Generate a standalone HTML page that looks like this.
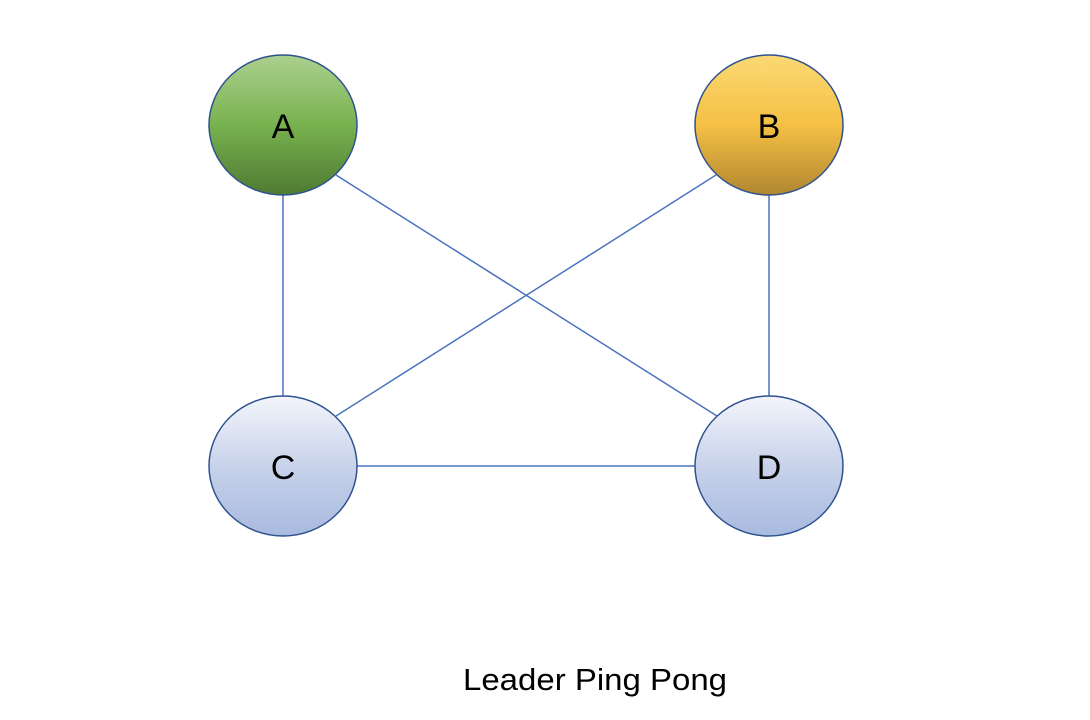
<!DOCTYPE html>
<html><head><meta charset="utf-8"><style>html,body{margin:0;padding:0;background:#fff;width:1090px;height:720px;overflow:hidden}</style></head>
<body>
<svg width="1090" height="720" xmlns="http://www.w3.org/2000/svg">
<defs>
<linearGradient id="ga" x1="0" y1="0" x2="0" y2="1"><stop offset="0" stop-color="#acd08f"/><stop offset="0.5" stop-color="#78b24f"/><stop offset="1" stop-color="#4f7a32"/></linearGradient>
<linearGradient id="gb" x1="0" y1="0" x2="0" y2="1"><stop offset="0" stop-color="#fbd975"/><stop offset="0.5" stop-color="#f5c044"/><stop offset="1" stop-color="#b08730"/></linearGradient>
<linearGradient id="gc" x1="0" y1="0" x2="0" y2="1"><stop offset="0" stop-color="#f3f5fb"/><stop offset="0.5" stop-color="#c8d2ea"/><stop offset="1" stop-color="#a8bae0"/></linearGradient>
</defs>
<g stroke="#4a72c0" stroke-width="1.5">
<line x1="283" y1="195" x2="283" y2="396"/>
<line x1="769" y1="195" x2="769" y2="396"/>
<line x1="336" y1="175" x2="717" y2="416"/>
<line x1="716" y1="175" x2="336" y2="416"/>
<line x1="357" y1="466" x2="695" y2="466"/>
</g>
<g stroke="#2f528f" stroke-width="1.5">
<ellipse cx="283" cy="125" rx="74" ry="70" fill="url(#ga)"/>
<ellipse cx="769" cy="125" rx="74" ry="70" fill="url(#gb)"/>
<ellipse cx="283" cy="466" rx="74" ry="70" fill="url(#gc)"/>
<ellipse cx="769" cy="466" rx="74" ry="70" fill="url(#gc)"/>
</g>
<g font-family="Liberation Sans, sans-serif" font-size="34" fill="#000" text-anchor="middle">
<text x="283" y="138">A</text>
<text x="769" y="138">B</text>
<text x="283" y="479">C</text>
<text x="769" y="479">D</text>
</g>
<text x="463" y="690" font-family="Liberation Sans, sans-serif" font-size="31" textLength="264" lengthAdjust="spacingAndGlyphs">Leader Ping Pong</text>
</svg>
</body></html>
